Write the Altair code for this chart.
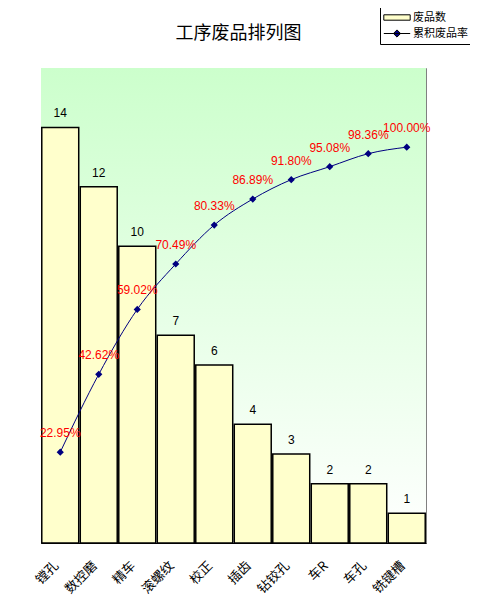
import altair as alt
import pandas as pd

categories = ["镗孔", "数控磨", "精车", "滚螺纹", "校正", "插齿", "钻铰孔", "车R", "车孔", "铣键槽"]
counts = [14, 12, 10, 7, 6, 4, 3, 2, 2, 1]
cum_pct = [0.2295, 0.4262, 0.5902, 0.7049, 0.8033, 0.8689, 0.9180, 0.9508, 0.9836, 1.0000]
bar_series = "废品数"
line_series = "累积废品率"
count_ticks = [0, 2, 4, 6, 8, 10, 12, 14, 16]
pct_ticks = [0, 0.2, 0.4, 0.6, 0.8, 1.0, 1.2]

FONT = "Liberation Sans, Noto Sans CJK SC"
CJK = "Noto Sans CJK SC"

df = pd.DataFrame({
    "cat": categories,
    "count": counts,
    "pct": cum_pct,
    "bs": [bar_series] * len(categories),
    "ls": [line_series] * len(categories),
})
df["pct_label"] = [f"{p*100:.2f}%" for p in cum_pct]

x_enc = alt.X("cat:N", sort=categories,
              scale=alt.Scale(paddingInner=0.04, paddingOuter=0.02),
              axis=alt.Axis(title=None, labelAngle=-45, ticks=False, labelFont=CJK,
                            labelFontSize=13, labelColor="black", domainColor="black",
                            labelPadding=16, labelOffset=-8))

series_domain = [bar_series, line_series]
fill_scale = alt.Scale(domain=series_domain, range=["#FFFFCC", "#000080"])
shape_scale = alt.Scale(domain=series_domain,
                        range=["M-2.2,-0.45H2.2V0.45H-2.2Z",
                               "M-2.2,0H2.2M0,-0.6L0.6,0L0,0.6L-0.6,0Z"])

legend = alt.Legend(title=None, orient="none", legendX=339, legendY=-61,
                    direction="vertical", labelFont=CJK, labelFontSize=11,
                    labelColor="black", symbolSize=144, symbolStrokeColor="black",
                    symbolStrokeWidth=1, strokeColor="black", fillColor="white",
                    padding=4, rowPadding=4, labelOffset=9.5, symbolOffset=6.5)

bg = alt.Chart(alt.Data(values=[{"a": 1}])).mark_rect(
    fill={"gradient": "linear", "x1": 0, "y1": 0, "x2": 0, "y2": 1,
          "stops": [{"offset": 0, "color": "#CCFFCC"},
                    {"offset": 1, "color": "#FFFFFF"}]}
).encode(x=alt.value(0), x2=alt.value("width"), y=alt.value(0), y2=alt.value("height"))

base = alt.Chart(df)

y_count = alt.Y("count:Q", scale=alt.Scale(domain=[0, 16]),
                axis=alt.Axis(title=None, values=count_ticks, grid=False, orient="left",
                              tickSize=5, labelFont=FONT, labelFontSize=12,
                              labelColor="black", domainColor="black", tickColor="black",
                              labelPadding=3))

bars = base.mark_bar(stroke="black", strokeWidth=1.5).encode(
    x=x_enc, y=y_count,
    fill=alt.Fill("bs:N", scale=fill_scale, legend=legend),
)
bar_text = base.mark_text(baseline="bottom", dy=-7, font=FONT, fontSize=12, color="black").encode(
    x=x_enc, y=alt.Y("count:Q", scale=alt.Scale(domain=[0, 16]), axis=None),
    text="count:Q")

left = alt.layer(bars, bar_text)

y_pct = alt.Y("pct:Q", scale=alt.Scale(domain=[0, 1.2]),
              axis=alt.Axis(title=None, values=pct_ticks, format=".0%", grid=False,
                            orient="right", tickSize=4, labelFont=FONT, labelFontSize=12,
                            labelColor="black", domainColor="black", tickColor="black",
                            labelPadding=3))

line = base.mark_line(color="#000080", strokeWidth=1, interpolate="monotone").encode(
    x=x_enc, y=y_pct)
pts = base.mark_point(filled=True, size=144, opacity=1, strokeWidth=0).encode(
    x=x_enc, y=alt.Y("pct:Q", scale=alt.Scale(domain=[0, 1.2]), axis=None),
    fill=alt.Fill("ls:N", scale=fill_scale, legend=legend),
    shape=alt.Shape("ls:N", scale=shape_scale, legend=legend),
)
pct_text = base.mark_text(baseline="bottom", dy=-12, font=FONT, fontSize=12, color="#FF0000").encode(
    x=x_enc, y=alt.Y("pct:Q", scale=alt.Scale(domain=[0, 1.2]), axis=None),
    text="pct_label:N")

right = alt.layer(line, pts, pct_text)

chart = alt.layer(bg, left, right).resolve_scale(y="independent").properties(
    width=385, height=475,
    title=alt.Title("工序废品排列图", font=CJK, fontSize=18, fontWeight="normal",
                    color="black", anchor="middle", offset=-36, dx=5),
    autosize=alt.AutoSizeParams(type="none"),
    padding={"left": 33, "top": 60, "right": 44, "bottom": 58},
).configure_view(stroke="#808080", strokeWidth=1)

chart.save("out.html", embed_options={"renderer": "svg", "actions": False})
